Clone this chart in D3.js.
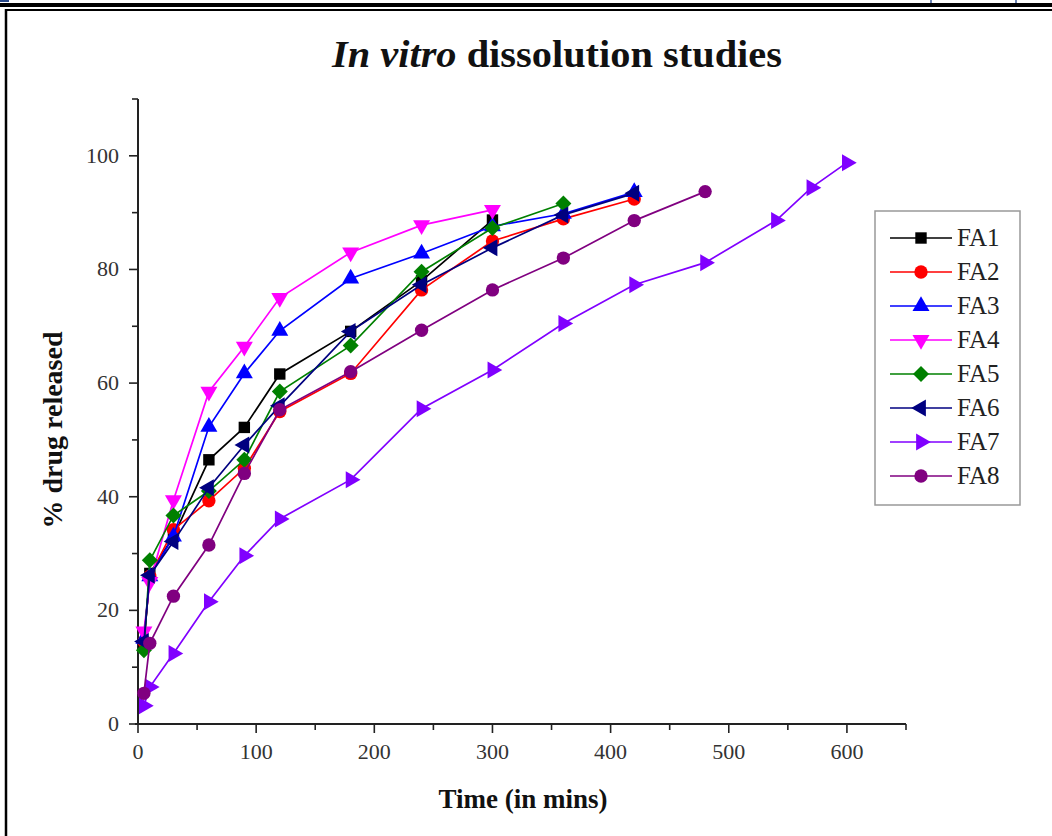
<!DOCTYPE html>
<html><head><meta charset="utf-8">
<script src="https://cdn.jsdelivr.net/npm/d3@7"></script>
<style>body{margin:0;background:#fff}svg{display:block}</style>
</head><body>
<svg id="chart" width="1052" height="836"></svg>
<script>
const seriesNames = ["FA1","FA2","FA3","FA4","FA5","FA6","FA7","FA8"];
const seriesColors = ["#000000","#ff0000","#0000ff","#ff00ff","#008000","#000080","#8000ff","#800080"];
const seriesSymbols = ["square","circle","up","down","diamond","left","right","circle"];
const timeFA1 = [5,10,30,60,90,120,180,240,300];
const valFA1  = [14,26.5,33,46.5,52.2,61.6,69.1,78,88.7];
const timeFA2 = [5,10,30,60,90,120,180,240,300,360,420];
const valFA2  = [14.5,26,34.2,39.3,45,55,61.7,76.4,85,88.9,92.4];
const timeFA3 = [5,10,30,60,90,120,180,240,300,360,420];
const valFA3  = [15,26,33,52.3,61.7,69.2,78.4,82.8,87.6,89.8,93.6];
const timeFA4 = [5,10,30,60,90,120,180,240,300];
const valFA4  = [16.3,25,39.4,58.5,66.4,75,83,87.8,90.5];
const timeFA5 = [5,10,30,60,90,120,180,240,300,360];
const valFA5  = [13,28.8,36.7,41,46.5,58.5,66.6,79.6,87.3,91.6];
const timeFA6 = [5,10,30,60,90,120,180,240,300,360,420];
const valFA6  = [14.5,26.2,32.1,41.6,49.1,56,69.1,77.3,83.8,89.6,93.4];
const timeFA7 = [5,10,30,60,90,120,180,240,300,360,420,480,540,570,600];
const valFA7  = [3.2,6.5,12.4,21.5,29.6,36.1,43,55.5,62.3,70.5,77.3,81.2,88.6,94.4,98.8];
const timeFA8 = [5,10,30,60,90,120,180,240,300,360,420,480];
const valFA8  = [5.4,14.2,22.5,31.5,44.1,55.3,62,69.3,76.4,82,88.6,93.7];
const xTickLabels = [0,100,200,300,400,500,600];
const yTickLabels = [0,20,40,60,80,100];

const times = [timeFA1,timeFA2,timeFA3,timeFA4,timeFA5,timeFA6,timeFA7,timeFA8];
const vals = [valFA1,valFA2,valFA3,valFA4,valFA5,valFA6,valFA7,valFA8];
const series = seriesNames.map((n,i)=>({name:n,color:seriesColors[i],sym:seriesSymbols[i],
  pts:times[i].map((t,j)=>({t:t,v:vals[i][j]}))}));

const svg = d3.select("#chart");
const serif = "'Liberation Serif','Times New Roman',serif";

// page frame artifacts
svg.append("rect").attr("x",0).attr("y",3).attr("width",1052).attr("height",4).attr("fill","#000");
svg.append("line").attr("x1",6).attr("x2",1052).attr("y1",10).attr("y2",10).attr("stroke","#000").attr("stroke-width",2);
svg.append("line").attr("x1",6).attr("x2",6).attr("y1",9).attr("y2",836).attr("stroke","#000").attr("stroke-width",2.5);
svg.append("rect").attr("x",0).attr("y",0).attr("width",9).attr("height",2).attr("fill","#2a4a8a");
[931,1016].forEach(x=>svg.append("line").attr("x1",x).attr("x2",x).attr("y1",0).attr("y2",3).attr("stroke","#3a5a9a").attr("stroke-width",1.5));

const x = d3.scaleLinear().domain([0,650]).range([138,906]);
const y = d3.scaleLinear().domain([0,110]).range([724,99]);

// title
const title = svg.append("text").attr("x",557).attr("y",67).attr("text-anchor","middle")
  .attr("font-family",serif).attr("font-size",38).attr("font-weight","bold").attr("fill","#111")
  .attr("textLength",450).attr("lengthAdjust","spacingAndGlyphs");
title.append("tspan").attr("font-style","italic").text("In vitro");
title.append("tspan").text(" dissolution studies");

// axes
const xMinor = d3.range(0,651,50);
const yMinor = d3.range(0,111,10);
const gx = svg.append("g").attr("transform","translate(0,724)");
gx.append("line").attr("x1",x(0)-3).attr("x2",x(650)).attr("stroke","#222").attr("stroke-width",2);
gx.selectAll("line.t").data(xMinor).join("line").attr("class","t")
  .attr("x1",d=>x(d)).attr("x2",d=>x(d)).attr("y1",0).attr("y2",d=>d%100===0?9:6)
  .attr("stroke","#222").attr("stroke-width",1.6);
gx.selectAll("text").data(xTickLabels).join("text").attr("x",d=>x(d)).attr("y",35)
  .attr("text-anchor","middle").attr("font-family",serif).attr("font-size",22).attr("fill","#333").text(d=>d);

const gy = svg.append("g").attr("transform","translate(138,0)");
gy.append("line").attr("y1",y(110)).attr("y2",y(0)+1).attr("stroke","#222").attr("stroke-width",2);
gy.selectAll("line.t").data(yMinor).join("line").attr("class","t")
  .attr("y1",d=>y(d)).attr("y2",d=>y(d)).attr("x1",0).attr("x2",d=>d%20===0?-9:-6)
  .attr("stroke","#222").attr("stroke-width",1.6);
gy.selectAll("text").data(yTickLabels).join("text").attr("x",-19).attr("y",d=>y(d)+7)
  .attr("text-anchor","end").attr("font-family",serif).attr("font-size",22).attr("fill","#333").text(d=>d);

svg.append("text").attr("x",523).attr("y",808).attr("text-anchor","middle").attr("font-family",serif)
  .attr("font-size",27).attr("font-weight","bold").attr("fill","#111").text("Time (in mins)");
svg.append("text").attr("transform","translate(62,430) rotate(-90)").attr("text-anchor","middle").attr("font-family",serif)
  .attr("font-size",28).attr("font-weight","bold").attr("fill","#111").text("% drug released");

// symbols
function symPath(s){
  if(s==="square") return d3.symbol(d3.symbolSquare,130)();
  if(s==="circle") return d3.symbol(d3.symbolCircle,140)();
  if(s==="diamond") return "M0,-8L8,0L0,8L-8,0Z";
  return d3.symbol(d3.symbolTriangle,125)();
}
function symRot(s){ return s==="down"?180:s==="left"?-90:s==="right"?90:0; }

const line = d3.line().x(d=>x(d.t)).y(d=>y(d.v));
const gs = svg.append("g");
series.forEach(s=>{
  const g = gs.append("g");
  g.append("path").attr("d",line(s.pts)).attr("fill","none").attr("stroke",s.color).attr("stroke-width",1.7);
  g.selectAll("path.m").data(s.pts).join("path").attr("class","m").attr("d",symPath(s.sym))
    .attr("transform",d=>`translate(${x(d.t)},${y(d.v)}) rotate(${symRot(s.sym)})`).attr("fill",s.color);
});

// legend
const lg = svg.append("g");
lg.append("rect").attr("x",875).attr("y",211).attr("width",145).attr("height",294)
  .attr("fill","#fff").attr("stroke","#999").attr("stroke-width",1.5);
series.forEach((s,i)=>{
  const yy = 238 + i*34;
  lg.append("line").attr("x1",890).attr("x2",952).attr("y1",yy).attr("y2",yy).attr("stroke",s.color).attr("stroke-width",1.7);
  lg.append("path").attr("d",symPath(s.sym)).attr("transform",`translate(921,${yy}) rotate(${symRot(s.sym)})`).attr("fill",s.color);
  lg.append("text").attr("x",957).attr("y",yy+8).attr("font-family",serif).attr("font-size",25).attr("fill","#222").text(s.name);
});
</script>
</body></html>
